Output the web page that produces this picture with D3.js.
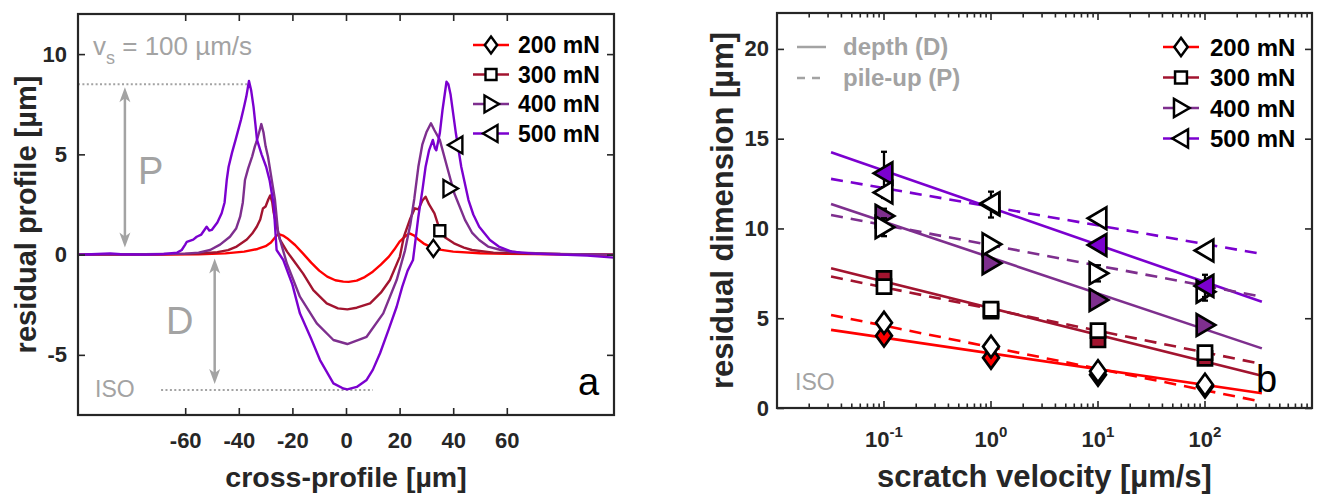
<!DOCTYPE html>
<html>
<head>
<meta charset="utf-8">
<script src="https://cdn.jsdelivr.net/npm/d3@7"></script>
<style>
  body { margin: 0; background: #fff; }
  svg text { font-family: "Liberation Sans", Arial, Helvetica, sans-serif; }
</style>
</head>
<body>
<svg id="fig" width="1319" height="496"></svg>
<script>
// ---------- shared series info ----------
const loads = ["200 mN", "300 mN", "400 mN", "500 mN"];
const loadColors = ["#ff0000", "#a2142f", "#7e2f8e", "#7b00cf"];
const markerTypes = ["diamond", "square", "triRight", "triLeft"];

// ---------- panel a: residual cross-profiles at v_s = 100 µm/s ----------
const profile200 = [[-100,0],[-70,0],[-55,0.02],[-45,0.06],[-38,0.15],[-33,0.28],[-30,0.42],[-28,0.6],[-26.5,0.85],[-25.3,1.03],
  [-23.5,0.95],[-22,0.82],[-19,0.48],[-16,0.05],[-13,-0.4],[-10,-0.8],[-7,-1.1],[-4,-1.28],[-1,-1.35],[1,-1.36],[4,-1.3],[7,-1.12],
  [10,-0.85],[13,-0.5],[16,-0.1],[18,0.25],[20,0.65],[22,0.9],[23.7,1.06],[25.5,0.95],[27,0.75],[29,0.55],[32,0.36],[35,0.25],
  [40,0.15],[50,0.07],[60,0.04],[80,0.02],[100,0]];
const profile300 = [[-100,0],[-70,0.01],[-55,0.05],[-48,0.12],[-44,0.22],[-40.8,0.4],[-37,0.75],[-35,1.05],[-33.3,1.39],[-32,1.75],
  [-31,2.3],[-30,2.4],[-29,2.75],[-28.3,2.95],[-27.5,2.6],[-27,2.1],[-26,1.5],[-24.6,0.73],[-22,0.15],[-19.7,-0.27],[-16,-0.95],
  [-12.2,-1.77],[-7.2,-2.43],[-3,-2.68],[0.5,-2.73],[4,-2.65],[9,-2.43],[13,-1.9],[16.4,-1.27],[20.1,-0.1],[21.6,0.9],[24,1.8],
  [25.7,2.31],[27,2.25],[28.5,2.7],[29.7,2.89],[31,2.5],[33,2.06],[35,1.23],[37,0.85],[40.3,0.56],[44,0.35],[47,0.23],[55,0.1],
  [70,0.04],[100,0]];
const profile400 = [[-100,0],[-75,0.02],[-60,0.05],[-55,0.1],[-50.7,0.23],[-47,0.5],[-43.3,0.89],[-41,1.3],[-39.5,1.89],[-38.5,2.6],
  [-37.7,3.72],[-36.5,4.3],[-35,4.9],[-34,5.4],[-33.4,5.63],[-32.2,6.2],[-31.6,6.51],[-30.8,6.1],[-30,5.4],[-29.1,4.88],[-27.8,3.8],
  [-26.5,2.72],[-25.3,1.06],[-22.1,-0.43],[-17.2,-2.1],[-10.9,-3.43],[-4.7,-4.26],[0.5,-4.46],[7.7,-4.1],[13.9,-2.93],[18.9,-1.27],
  [22,0.2],[24,1.5],[25.5,2.8],[27,4.38],[28.5,5.5],[30,6.1],[31.7,6.55],[33,6.2],[35,5.72],[37.7,4.38],[40.4,3.06],[44.4,1.73],
  [47,1.1],[49.7,0.73],[53,0.4],[57.8,0.23],[65,0.1],[80,0.03],[100,0]];
const profile500 = [[-100,0],[-95,0.02],[-88,0.06],[-84,0.02],[-75,0],[-68,0.03],[-63,0.1],[-61.3,0.23],[-60,0.5],[-59.4,0.64],
  [-57,0.75],[-55.7,0.89],[-54,1.0],[-52,1.39],[-51,1.2],[-50.1,1.23],[-48,1.6],[-46.4,2.06],[-45.3,2.6],[-44.5,3.72],[-43.8,4.38],
  [-42.5,5.1],[-41.2,5.72],[-39.2,6.72],[-38,7.4],[-37.2,7.88],[-36.2,8.66],[-35.4,8.2],[-34.5,7.37],[-33.8,6.5],[-33.2,5.72],
  [-31.5,5.0],[-29.8,4.38],[-28.5,3.7],[-27,2.5],[-25.9,0.23],[-23.4,-0.27],[-20,-1.5],[-17.2,-2.93],[-13,-4.2],[-9.7,-5.26],
  [-4.7,-6.42],[-1,-6.68],[0.5,-6.72],[4,-6.6],[7.7,-6.25],[10,-5.75],[12.7,-4.92],[16,-3.7],[18.9,-2.6],[21,-1.6],[23,-0.8],
  [25,-0.27],[26,0.8],[27,1.89],[28.5,3.2],[29.7,4.38],[31,5.2],[32.4,5.72],[33.2,5.3],[33.7,5.2],[35,6.05],[36,7.2],[37.5,8.62],
  [38.2,8.5],[39,8.0],[41,6.05],[43,4.38],[45.7,2.72],[47.5,2.0],[49.7,1.39],[53.7,0.73],[57,0.4],[61.8,0.15],[70,0.05],[80,0],
  [90,-0.05],[100,-0.15]];
const profileMarkers = [[32.6,0.31],[35,1.19],[38.8,3.3],[41,5.47]];
const profileTicksX = [-60,-40,-20,0,20,40,60];
const profileTicksY = [-5,0,5,10];
const pileUpLevel = 8.5;     // height marked by the P arrow
const isoLevel = -6.75;      // depth marked by the D arrow

// ---------- panel b: residual depth / pile-up vs scratch velocity ----------
const velocities = [0.1, 1, 10, 100];
const depth200 = [4.03, 2.8, 1.85, 1.2];
const pile200  = [4.75, 3.42, 2.05, 1.3];
const depth300 = [7.22, 5.4, 3.79, 2.77];
const pile300  = [6.76, 5.5, 4.31, 3.08];
const depth400 = [10.7, 8.06, 6.02, 4.62];
const pile400  = [10.07, 9.12, 7.5, 6.48];
const depth500 = [13.07, 11.33, 9.08, 6.8];
const pile500  = [12.0, 11.4, 10.57, 8.77];
const depthErr200 = [0.15, 0.15, 0.2, 0.1];
const pileErr200  = [0.15, 0.15, 0.2, 0.1];
const depthErr300 = [0.15, 0.15, 0.15, 0.15];
const pileErr300  = [0.15, 0.15, 0.15, 0.15];
const depthErr400 = [0.4, 0.2, 0.2, 0.2];
const pileErr400  = [0.5, 0.2, 0.45, 0.5];
const depthErr500 = [1.2, 0.72, 0.2, 0.62];
const pileErr500  = [0.3, 0.3, 0.2, 0.2];
// log-linear fits, evaluated at the two ends of the fitted range
const fitRange = [0.032, 340];
const depthFit200 = [4.35, 0.82];
const pileFit200  = [5.18, 0.35];
const depthFit300 = [7.78, 1.8];
const pileFit300  = [7.32, 2.45];
const depthFit400 = [11.36, 3.32];
const pileFit400  = [10.75, 6.2];
const depthFit500 = [14.24, 5.92];
const pileFit500  = [12.76, 8.58];
const velocityTicks = [0.1, 1, 10, 100];
const velocityTickExps = ["-1", "0", "1", "2"];
const dimensionTicks = [0, 5, 10, 15, 20];

const depthSeries = [depth200, depth300, depth400, depth500];
const pileSeries  = [pile200, pile300, pile400, pile500];
const depthErrs = [depthErr200, depthErr300, depthErr400, depthErr500];
const pileErrs  = [pileErr200, pileErr300, pileErr400, pileErr500];
const depthFits = [depthFit200, depthFit300, depthFit400, depthFit500];
const pileFits  = [pileFit200, pileFit300, pileFit400, pileFit500];
const profiles  = [profile200, profile300, profile400, profile500];

// ---------- styling ----------
const axisColor = "#262626";
const noteGray = "#a3a3a3";

function markerPath(type, s = 1) {
  const p = {
    diamond:  [[0,-8.5],[6.2,0],[0,8.5],[-6.2,0]],
    square:   [[-5.5,-5.5],[5.5,-5.5],[5.5,5.5],[-5.5,5.5]],
    triRight: [[-6.5,-8.5],[8,0],[-6.5,8.5]],
    triLeft:  [[6.5,-8.5],[-8,0],[6.5,8.5]]
  }[type];
  return "M" + p.map(q => `${q[0] * s},${q[1] * s}`).join("L") + "Z";
}

const svg = d3.select("#fig");

function styleAxis(g) {
  g.select(".domain").remove();
  g.selectAll(".tick line").attr("stroke", axisColor).attr("stroke-width", 1.6);
  g.selectAll("text").attr("fill", axisColor).attr("font-weight", "bold").attr("font-size", 22);
}

function arrowHead(g, x, y, dir) {
  // dir = -1 points up, +1 points down
  const L = 15, W = 5.5, N = 11;
  g.append("path")
    .attr("d", `M${x},${y}L${x - W},${y - dir * L}L${x},${y - dir * N}L${x + W},${y - dir * L}Z`)
    .attr("fill", noteGray);
}

// =====================================================================
// Panel a
// =====================================================================
const ax = { left: 78, right: 614, top: 14, bottom: 415 };
const xA = d3.scaleLinear().domain([-100, 100]).range([ax.left, ax.right]);
const yA = d3.scaleLinear().domain([-8, 12]).range([ax.bottom, ax.top]);

const gA = svg.append("g");
gA.append("clipPath").attr("id", "clipA").append("rect")
  .attr("x", ax.left).attr("y", ax.top).attr("width", ax.right - ax.left).attr("height", ax.bottom - ax.top);

// dotted reference levels
gA.append("line").attr("x1", xA(-100)).attr("x2", xA(-36.2)).attr("y1", yA(pileUpLevel)).attr("y2", yA(pileUpLevel))
  .attr("stroke", noteGray).attr("stroke-width", 2).attr("stroke-dasharray", "2,2.4");
gA.append("line").attr("x1", xA(-69)).attr("x2", xA(10)).attr("y1", yA(isoLevel)).attr("y2", yA(isoLevel))
  .attr("stroke", noteGray).attr("stroke-width", 2).attr("stroke-dasharray", "2,2.4");

// profiles
const lineA = d3.line().x(d => xA(d[0])).y(d => yA(d[1]));
profiles.forEach((p, i) => {
  gA.append("path").datum(p).attr("d", lineA).attr("fill", "none")
    .attr("stroke", loadColors[i]).attr("stroke-width", 2.4).attr("stroke-linejoin", "round")
    .attr("clip-path", "url(#clipA)");
});
profileMarkers.forEach((m, i) => {
  gA.append("path").attr("d", markerPath(markerTypes[i]))
    .attr("transform", `translate(${xA(m[0])},${yA(m[1])})`)
    .attr("fill", "white").attr("stroke", "black").attr("stroke-width", 2.4);
});

// P and D arrows
{
  const xp = xA(-82.5), y1 = yA(pileUpLevel) + 3, y2 = yA(0) - 7;
  gA.append("line").attr("x1", xp).attr("x2", xp).attr("y1", y1 + 10).attr("y2", y2 - 10)
    .attr("stroke", noteGray).attr("stroke-width", 2.5);
  arrowHead(gA, xp, y1, -1);
  arrowHead(gA, xp, y2, 1);
  const xd = xA(-49), d1 = yA(0) + 4, d2 = yA(isoLevel) - 6;
  gA.append("line").attr("x1", xd).attr("x2", xd).attr("y1", d1 + 10).attr("y2", d2 - 10)
    .attr("stroke", noteGray).attr("stroke-width", 2.5);
  arrowHead(gA, xd, d1, -1);
  arrowHead(gA, xd, d2, 1);
}
gA.append("text").attr("x", 138).attr("y", 184).attr("font-size", 38).attr("fill", noteGray).text("P");
gA.append("text").attr("x", 166).attr("y", 334).attr("font-size", 38).attr("fill", noteGray).text("D");
gA.append("text").attr("x", 95).attr("y", 397).attr("font-size", 23).attr("fill", noteGray).text("ISO");
{
  const t = gA.append("text").attr("x", 93).attr("y", 55).attr("font-size", 26).attr("fill", noteGray);
  t.append("tspan").text("v");
  t.append("tspan").attr("font-size", 18).attr("dy", 9).text("s");
  t.append("tspan").attr("dy", -9).text(" = 100 µm/s");
}
gA.append("text").attr("x", 578).attr("y", 395).attr("font-size", 38).attr("fill", "black").text("a");

// axes (inward ticks on all four sides)
gA.append("g").attr("transform", `translate(0,${ax.bottom})`)
  .call(d3.axisBottom(xA).tickValues(profileTicksX).tickSize(-7).tickPadding(17).tickFormat(d3.format("d")))
  .call(styleAxis);
gA.append("g").attr("transform", `translate(0,${ax.top})`)
  .call(d3.axisTop(xA).tickValues(profileTicksX).tickSize(-7).tickFormat(""))
  .call(styleAxis);
gA.append("g").attr("transform", `translate(${ax.left},0)`)
  .call(d3.axisLeft(yA).tickValues(profileTicksY).tickSize(-7).tickPadding(11).tickFormat(d3.format("d")))
  .call(styleAxis);
gA.append("g").attr("transform", `translate(${ax.right},0)`)
  .call(d3.axisRight(yA).tickValues(profileTicksY).tickSize(-7).tickFormat(""))
  .call(styleAxis);
gA.selectAll(".tick text").text(function () { return d3.select(this).text().replace("−", "-"); });
gA.append("rect").attr("x", ax.left).attr("y", ax.top).attr("width", ax.right - ax.left).attr("height", ax.bottom - ax.top)
  .attr("fill", "none").attr("stroke", axisColor).attr("stroke-width", 2.2);

gA.append("text").attr("x", (ax.left + ax.right) / 2).attr("y", 487).attr("text-anchor", "middle")
  .attr("font-size", 28.5).attr("font-weight", "bold").attr("fill", axisColor).text("cross-profile [µm]");
gA.append("text").attr("transform", `translate(36,${(ax.top + ax.bottom) / 2}) rotate(-90)`).attr("text-anchor", "middle")
  .attr("font-size", 29).attr("font-weight", "bold").attr("fill", axisColor).text("residual profile [µm]");

// legend
loads.forEach((name, i) => {
  const y = 45 + i * 29.5;
  gA.append("line").attr("x1", 473).attr("x2", 509).attr("y1", y).attr("y2", y)
    .attr("stroke", loadColors[i]).attr("stroke-width", 2.5);
  gA.append("path").attr("d", markerPath(markerTypes[i])).attr("transform", `translate(491,${y})`)
    .attr("fill", "white").attr("stroke", "black").attr("stroke-width", 2.4);
  gA.append("text").attr("x", 518).attr("y", y + 8).attr("font-size", 23).attr("font-weight", "bold")
    .attr("fill", "black").text(name);
});

// =====================================================================
// Panel b
// =====================================================================
const bx = { left: 777, right: 1312, top: 13, bottom: 408 };
const xB = d3.scaleLog().domain([0.01, 1000]).range([bx.left, bx.right]);
const yB = d3.scaleLinear().domain([0, 22]).range([bx.bottom, bx.top]);
const gB = svg.append("g");

// fit lines
depthFits.forEach((f, i) => {
  gB.append("line").attr("x1", xB(fitRange[0])).attr("x2", xB(fitRange[1]))
    .attr("y1", yB(f[0])).attr("y2", yB(f[1]))
    .attr("stroke", loadColors[i]).attr("stroke-width", 2.6);
});
pileFits.forEach((f, i) => {
  gB.append("line").attr("x1", xB(fitRange[0])).attr("x2", xB(fitRange[1]))
    .attr("y1", yB(f[0])).attr("y2", yB(f[1]))
    .attr("stroke", loadColors[i]).attr("stroke-width", 2.6).attr("stroke-dasharray", "12,8");
});

// error bars + markers (depth filled underneath, pile-up open on top)
function drawPoints(values, errs, i, filled) {
  values.forEach((v, k) => {
    const x = xB(velocities[k]);
    const e = errs[k];
    gB.append("line").attr("x1", x).attr("x2", x).attr("y1", yB(v - e)).attr("y2", yB(v + e))
      .attr("stroke", "black").attr("stroke-width", 2.3);
    [v - e, v + e].forEach(c => gB.append("line").attr("x1", x - 3).attr("x2", x + 3)
      .attr("y1", yB(c)).attr("y2", yB(c)).attr("stroke", "black").attr("stroke-width", 2.3));
    gB.append("path").attr("d", markerPath(markerTypes[i], 1.28))
      .attr("transform", `translate(${x},${yB(v)})`)
      .attr("fill", filled ? loadColors[i] : "white").attr("stroke", "black").attr("stroke-width", 2.7);
  });
}
[0, 1, 2, 3].forEach(i => {
  drawPoints(depthSeries[i], depthErrs[i], i, true);
  drawPoints(pileSeries[i], pileErrs[i], i, false);
});

// ticks: log minor ticks on bottom/top, majors at decades
const minorTicks = [];
for (let e = -2; e < 3; e++) for (let m = 2; m <= 9; m++) minorTicks.push(m * Math.pow(10, e));
function logTicks(gy, dir) {
  const g = gB.append("g");
  minorTicks.forEach(t => g.append("line").attr("x1", xB(t)).attr("x2", xB(t))
    .attr("y1", gy).attr("y2", gy + dir * 4.5).attr("stroke", axisColor).attr("stroke-width", 1.6));
  velocityTicks.forEach(t => g.append("line").attr("x1", xB(t)).attr("x2", xB(t))
    .attr("y1", gy).attr("y2", gy + dir * 7).attr("stroke", axisColor).attr("stroke-width", 1.6));
}
logTicks(bx.bottom, -1);
logTicks(bx.top, 1);
velocityTicks.forEach((t, k) => {
  const txt = gB.append("text").attr("x", xB(t)).attr("y", 447).attr("text-anchor", "middle")
    .attr("font-size", 22).attr("font-weight", "bold").attr("fill", axisColor);
  txt.append("tspan").text("10");
  txt.append("tspan").attr("font-size", 15).attr("dy", -10).text(velocityTickExps[k]);
});
gB.append("g").attr("transform", `translate(${bx.left},0)`)
  .call(d3.axisLeft(yB).tickValues(dimensionTicks).tickSize(-7).tickPadding(8).tickFormat(d3.format("d")))
  .call(styleAxis);
gB.append("g").attr("transform", `translate(${bx.right},0)`)
  .call(d3.axisRight(yB).tickValues(dimensionTicks).tickSize(-7).tickFormat(""))
  .call(styleAxis);
gB.append("rect").attr("x", bx.left).attr("y", bx.top).attr("width", bx.right - bx.left).attr("height", bx.bottom - bx.top)
  .attr("fill", "none").attr("stroke", axisColor).attr("stroke-width", 2.2);

gB.append("text").attr("x", (bx.left + bx.right) / 2).attr("y", 487).attr("text-anchor", "middle")
  .attr("font-size", 31).attr("font-weight", "bold").attr("fill", axisColor).text("scratch velocity [µm/s]");
gB.append("text").attr("transform", `translate(733,${(bx.top + bx.bottom) / 2}) rotate(-90)`).attr("text-anchor", "middle")
  .attr("font-size", 31).attr("font-weight", "bold").attr("fill", axisColor).text("residual dimension [µm]");

gB.append("text").attr("x", 795).attr("y", 390).attr("font-size", 23).attr("fill", noteGray).text("ISO");
gB.append("text").attr("x", 1256).attr("y", 392).attr("font-size", 38).attr("fill", "black").text("b");

// style legend (solid = depth, dashed = pile-up)
[["depth (D)", null], ["pile-up (P)", "8,7"]].forEach((d, k) => {
  const y = 47 + k * 31;
  const l = gB.append("line").attr("x1", 797).attr("x2", 826).attr("y1", y).attr("y2", y)
    .attr("stroke", noteGray).attr("stroke-width", 2.5);
  if (d[1]) l.attr("stroke-dasharray", d[1]);
  gB.append("text").attr("x", 843).attr("y", y + 8).attr("font-size", 24).attr("font-weight", "bold")
    .attr("fill", noteGray).text(d[0]);
});
// load legend
loads.forEach((name, i) => {
  const y = 47 + i * 30.5;
  gB.append("line").attr("x1", 1163).attr("x2", 1199).attr("y1", y).attr("y2", y)
    .attr("stroke", loadColors[i]).attr("stroke-width", 2.5);
  gB.append("path").attr("d", markerPath(markerTypes[i], 1.08)).attr("transform", `translate(1181,${y})`)
    .attr("fill", "white").attr("stroke", "black").attr("stroke-width", 2.5);
  gB.append("text").attr("x", 1210).attr("y", y + 8.5).attr("font-size", 24).attr("font-weight", "bold")
    .attr("fill", "black").text(name);
});
</script>
</body>
</html>
